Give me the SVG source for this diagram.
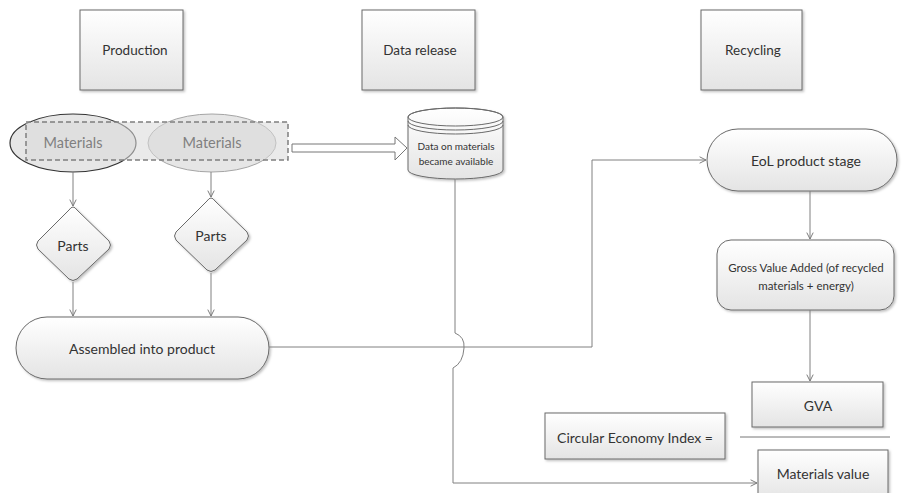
<svg xmlns="http://www.w3.org/2000/svg" width="902" height="493" viewBox="0 0 902 493">
<defs>
<linearGradient id="g" x1="0" y1="0" x2="0" y2="1"><stop offset="0" stop-color="#ffffff"/><stop offset="1" stop-color="#e4e4e4"/></linearGradient>
<filter id="sh" x="-10%" y="-10%" width="130%" height="130%"><feDropShadow dx="1.5" dy="1.5" stdDeviation="1" flood-color="#000" flood-opacity="0.25"/></filter>
<marker id="arr" viewBox="0 0 10 10" refX="9" refY="5" markerWidth="8" markerHeight="8" orient="auto" markerUnits="userSpaceOnUse"><path d="M1,1 L9,5 L1,9" fill="none" stroke="#777" stroke-width="1.2"/></marker>
</defs>
<style>
.box{fill:url(#g);stroke:#6a6a6a;stroke-width:1;filter:url(#sh)}
.t{font-family:Lato,"Open Sans",sans-serif;font-size:14px;fill:#333;text-anchor:middle;dominant-baseline:central}
.ts{font-size:11.5px}
.tg{fill:#808080;font-size:14.5px}
.c{fill:none;stroke:#808080;stroke-width:1}
</style>
<rect width="902" height="493" fill="#fff"/>

<g id="production"><rect class="box" x="80" y="10" width="103" height="80"/><text class="t" x="135" y="50" style="font-size:13.5px">Production</text></g>
<g id="data-release"><rect class="box" x="362" y="10" width="113" height="80"/><text class="t" x="420" y="50" style="font-size:13.5px">Data release</text></g>
<g id="recycling"><rect class="box" x="701" y="10" width="101" height="80"/><text class="t" x="753" y="50" style="font-size:13.5px">Recycling</text></g>

<g id="materials-group">
<ellipse cx="73" cy="143" rx="63" ry="29" fill="#e6e6e6" stroke="#333" stroke-width="1.2"/>
<ellipse cx="212" cy="143" rx="64" ry="29" fill="#e6e6e6" stroke="#a5a5a5" stroke-width="1"/>
<rect x="26" y="122" width="262" height="38" fill="#d8d8d8" fill-opacity="0.55" stroke="#7f7f7f" stroke-width="1.5" stroke-dasharray="5,3"/>
<text class="t tg" x="73" y="142">Materials</text>
<text class="t tg" x="212" y="142">Materials</text>
</g>

<g id="block-arrow"><path d="M292,144 H395 V137 L407,148 L395,160 V152 H292 Z" fill="#fff" stroke="#777" stroke-width="1"/></g>

<g id="data-store">
<path d="M408,117 V170 A47.5,9 0 0 0 503,170 V117 A47.5,9 0 0 0 408,117 Z" fill="url(#g)" stroke="#6a6a6a" filter="url(#sh)"/>
<ellipse cx="455.5" cy="117" rx="47.5" ry="9" fill="none" stroke="#6a6a6a"/>
<path d="M408,121 A47.5,9 0 0 0 503,121 M408,125 A47.5,9 0 0 0 503,125" fill="none" stroke="#6a6a6a"/>
<text class="t" x="456" y="146" style="font-size:10px">Data on materials</text>
<text class="t" x="456" y="161" style="font-size:10px">became available</text>
</g>

<g id="parts-1"><path d="M73,207 Q75,207 77,210 L109,241 Q112,245 109,249 L77,279 Q73,282 69,279 L38,249 Q35,245 38,241 L69,210 Q71,207 73,207 Z" class="box"/><text class="t" x="73" y="245">Parts</text></g>
<g id="parts-2"><path d="M211,198 Q213,198 215,201 L247,232 Q250,236 247,240 L215,270 Q211,273 207,270 L176,240 Q173,236 176,232 L207,201 Q209,198 211,198 Z" class="box"/><text class="t" x="211" y="235">Parts</text></g>

<g id="assembled"><rect class="box" x="16" y="317" width="253" height="62" rx="31"/><text class="t" x="142" y="348">Assembled into product</text></g>

<g id="eol"><rect class="box" x="707" y="129" width="190" height="62" rx="31"/><text class="t" x="806" y="160">EoL product stage</text></g>

<g id="gross-value"><rect class="box" x="717" y="240" width="177" height="70" rx="14"/><text class="t ts" x="806" y="267">Gross Value Added (of recycled</text><text class="t ts" x="806" y="285">materials + energy)</text></g>

<g id="gva"><rect class="box" x="752" y="382" width="131" height="45"/><text class="t" x="818" y="405">GVA</text></g>

<g id="index"><rect class="box" x="545" y="413" width="180" height="46"/><text class="t" x="635" y="437">Circular Economy Index =</text></g>

<g id="fraction"><line x1="740" y1="437" x2="890" y2="437" stroke="#777" stroke-width="1"/></g>

<g id="materials-value"><rect class="box" x="758" y="450" width="130" height="50"/><text class="t" x="823" y="473">Materials value</text></g>

<g id="connectors">
<path class="c" d="M73,172 V206" marker-end="url(#arr)"/>
<path class="c" d="M211,172 V197" marker-end="url(#arr)"/>
<path class="c" d="M73,282 V316" marker-end="url(#arr)"/>
<path class="c" d="M211,273 V316" marker-end="url(#arr)"/>
<path class="c" d="M269,347 H592 V160 H706" marker-end="url(#arr)"/>
<path class="c" d="M810,191 V239" marker-end="url(#arr)"/>
<path class="c" d="M810,310 V381" marker-end="url(#arr)"/>
<path class="c" d="M455,179 V333 Q465,337 464,348 Q463,363 453,368 V483 H757" marker-end="url(#arr)"/>
</g>
</svg>
